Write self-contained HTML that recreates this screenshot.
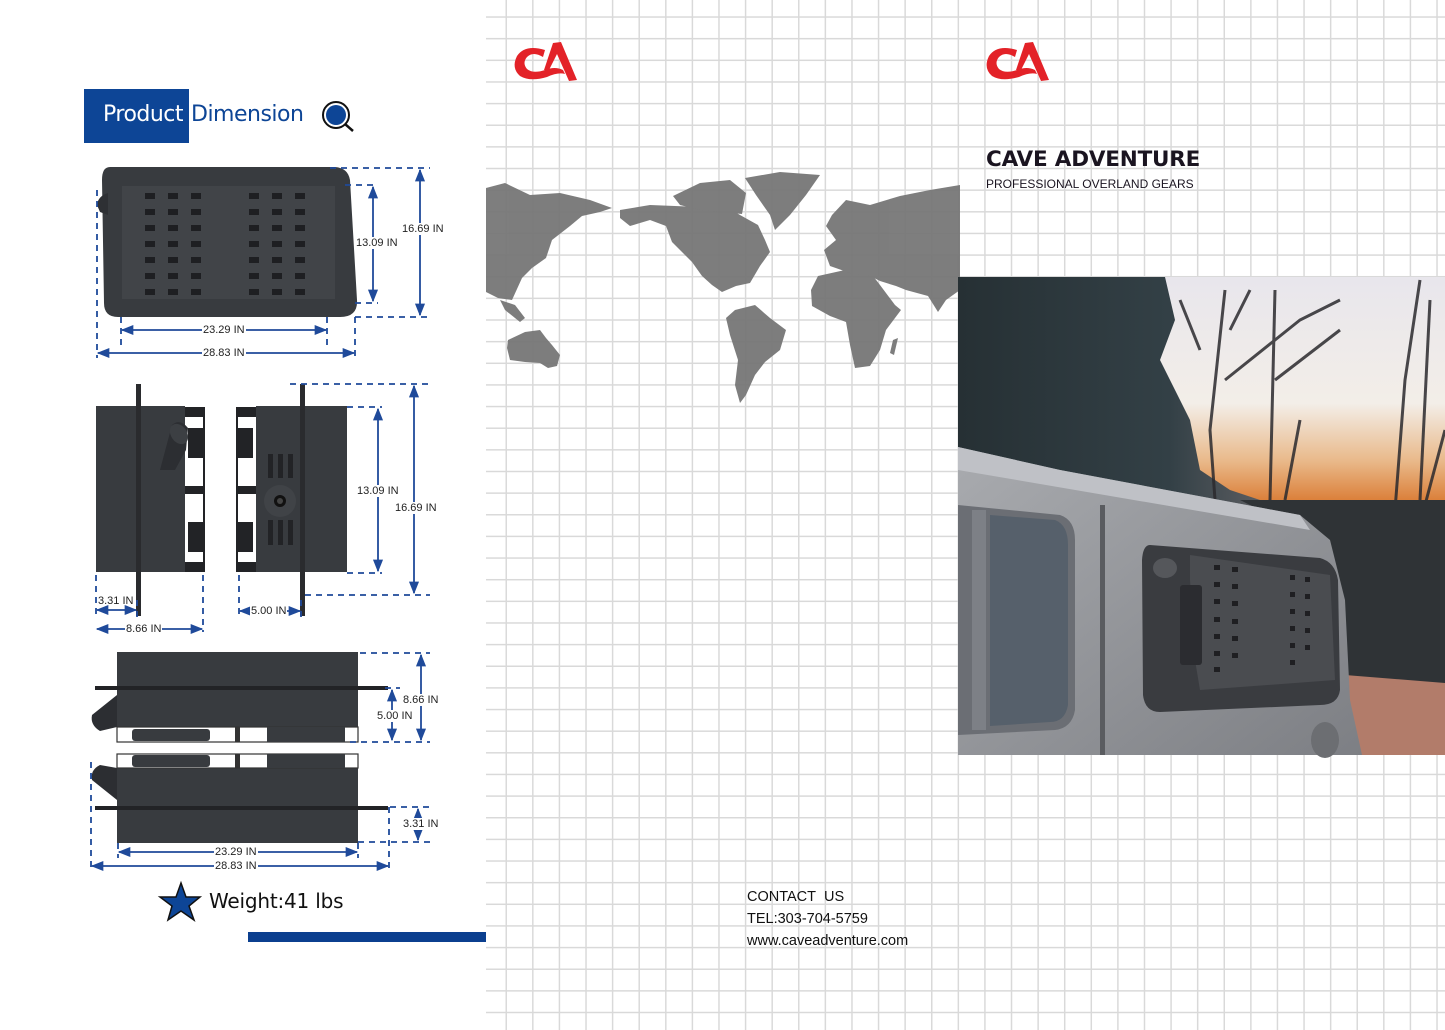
<!DOCTYPE html>
<html><head><meta charset="utf-8"><style>
*{margin:0;padding:0;box-sizing:border-box}
body{width:1445px;height:1030px;overflow:hidden;background:#fff;position:relative;font-family:"Liberation Sans",sans-serif}
#grid{position:absolute;left:486px;top:0;width:959px;height:1030px;
background-image:linear-gradient(to right,#d9d9d9 1.6px,transparent 1.6px),linear-gradient(to bottom,#d9d9d9 1.6px,transparent 1.6px);
background-size:26.6px 21.65px;background-position:19.5px 16.3px}
.t{position:absolute;white-space:nowrap}
svg{position:absolute;left:0;top:0}
</style></head><body>
<div id="grid"></div>

<svg width="1445" height="1030" viewBox="0 0 1445 1030">
<defs>
<marker id="ar" viewBox="0 0 10 10" refX="9" refY="5" markerWidth="7" markerHeight="7" orient="auto-start-reverse"><path d="M0,1 L10,5 L0,9 Z" fill="#1f4a9a"/></marker>
<linearGradient id="sky" x1="0" y1="0" x2="0" y2="1"><stop offset="0" stop-color="#e8e6ec"/><stop offset="0.55" stop-color="#f3eee8"/><stop offset="0.8" stop-color="#e9b98a"/><stop offset="1" stop-color="#d9762c"/></linearGradient>
<linearGradient id="trees" x1="0" y1="0" x2="1" y2="0"><stop offset="0" stop-color="#263034"/><stop offset="0.7" stop-color="#334046"/><stop offset="1" stop-color="#5a5c60"/></linearGradient>
<linearGradient id="car" x1="0" y1="0" x2="1" y2="1"><stop offset="0" stop-color="#a9abaf"/><stop offset="1" stop-color="#7d7f84"/></linearGradient>
</defs>

<!-- world map -->
<g fill="#777" opacity="0.95">
<path d="M486,188 L505,183 L530,195 L560,193 L590,200 L612,208 L600,212 L582,216 L570,226 L552,240 L546,258 L532,268 L522,278 L512,300 L498,298 L486,292Z"/>
<path d="M500,300 L515,305 L525,318 L520,322 L505,310Z"/>
<path d="M508,340 L525,332 L540,330 L546,338 L552,345 L560,355 L557,366 L548,368 L540,363 L525,362 L510,360 L507,348Z"/>
<path d="M620,210 L650,205 L700,207 L720,203 L740,215 L758,225 L765,240 L770,252 L760,266 L750,283 L736,286 L722,292 L712,285 L702,276 L692,262 L672,242 L666,226 L650,220 L630,226 L620,218Z"/>
<path d="M673,196 L700,183 L730,180 L746,193 L742,214 L722,212 L700,210 L680,205Z"/>
<path d="M745,178 L780,172 L820,175 L806,195 L790,215 L775,230 L770,215 L756,195Z"/>
<path d="M735,310 L755,305 L770,318 L786,330 L780,350 L765,362 L755,375 L746,395 L740,403 L735,385 L738,360 L730,335 L726,318Z"/>
<path d="M818,276 L845,270 L870,272 L880,285 L895,305 L901,310 L886,330 L880,350 L870,366 L855,368 L850,345 L846,322 L830,316 L812,306 L811,290Z"/>
<path d="M832,215 L846,200 L870,205 L900,196 L930,190 L960,185 L960,290 L946,300 L938,312 L928,296 L906,290 L896,286 L880,281 L870,276 L850,273 L830,266 L824,250 L836,240 L826,226Z"/>
<path d="M893,340 L898,338 L894,355 L890,353Z"/>
</g>

<!-- logos -->
<g fill="#e32228">
<path d="M545,50 Q525,44 517,56 Q511,68 520,76 Q530,82 547,77 Q558,72 565,74 L563,70 Q555,66 545,70 Q533,74 527,69 Q522,63 527,57 Q533,51 543,57Z"/>
<path d="M553,43 L561,42 L577,80 L569,81 L557,54 L549,70 L544,70Z"/>
<path d="M1017,50 Q997,44 989,56 Q983,68 992,76 Q1002,82 1019,77 Q1030,72 1037,74 L1035,70 Q1027,66 1017,70 Q1005,74 999,69 Q994,63 999,57 Q1005,51 1015,57Z"/>
<path d="M1025,43 L1033,42 L1049,80 L1041,81 L1029,54 L1021,70 L1016,70Z"/>
</g>

<!-- photo -->
<g>
<rect x="958" y="277" width="487" height="478" fill="#2c3437"/>
<rect x="1150" y="277" width="295" height="230" fill="url(#sky)"/>
<path d="M958,277 L1165,277 L1175,320 L1160,360 L1190,420 L1200,470 L1230,490 L1260,500 L1260,530 L958,530Z" fill="url(#trees)"/>
<g stroke="#2b2a2e" stroke-width="3" fill="none" opacity="0.85">
<path d="M1225,290 L1210,430 L1215,500"/><path d="M1225,380 L1300,320 L1340,300"/><path d="M1275,380 L1340,330"/>
<path d="M1275,290 L1270,500"/><path d="M1300,420 L1285,500"/><path d="M1420,280 L1405,380 L1395,510"/><path d="M1430,300 L1420,500"/><path d="M1445,430 L1425,505"/>
<path d="M1230,330 L1250,290"/><path d="M1180,300 L1200,350"/>
</g>
<path d="M1240,500 L1445,500 L1445,690 L1340,680 L1320,540Z" fill="#2f3336"/>
<path d="M1345,675 L1445,683 L1445,755 L1360,755Z" fill="#b27c6a"/>
<path d="M958,447 L1060,470 L1300,515 L1330,540 L1345,600 L1350,700 L1362,755 L958,755Z" fill="url(#car)"/>
<path d="M958,447 L1060,470 L1300,515 L1310,530 L958,470Z" fill="#bfc1c6"/>
<path d="M958,505 L1060,515 Q1075,520 1075,540 L1075,710 Q1072,728 1055,730 L958,735Z" fill="#6b6e74"/>
<path d="M990,515 L1055,520 Q1068,525 1068,545 L1068,705 Q1065,722 1050,722 L990,726Z" fill="#56606b"/>
<rect x="972" y="510" width="14" height="220" fill="#7d8086"/>
<rect x="1100" y="505" width="5" height="250" fill="#5a5c60"/>
<path d="M1150,545 L1320,558 Q1335,562 1338,580 L1340,690 Q1338,705 1320,705 L1160,712 Q1145,712 1143,695 L1142,560 Q1143,545 1150,545Z" fill="#3a3c40"/>
<path d="M1190,555 L1330,575 L1335,680 L1200,690 L1195,660 L1190,580Z" fill="#4a4c50"/>
<g fill="#1f1f22">
<rect x="1214" y="565" width="6" height="5"/><rect x="1232" y="567" width="6" height="5"/><rect x="1214" y="582" width="6" height="5"/><rect x="1232" y="584" width="6" height="5"/><rect x="1214" y="599" width="6" height="5"/><rect x="1232" y="601" width="6" height="5"/><rect x="1214" y="617" width="6" height="5"/><rect x="1232" y="619" width="6" height="5"/><rect x="1214" y="634" width="6" height="5"/><rect x="1232" y="636" width="6" height="5"/><rect x="1214" y="651" width="6" height="5"/><rect x="1232" y="653" width="6" height="5"/><rect x="1214" y="667" width="6" height="5"/>
<rect x="1290" y="575" width="5" height="5"/><rect x="1305" y="577" width="5" height="5"/><rect x="1290" y="592" width="5" height="5"/><rect x="1305" y="594" width="5" height="5"/><rect x="1290" y="609" width="5" height="5"/><rect x="1305" y="611" width="5" height="5"/><rect x="1290" y="626" width="5" height="5"/><rect x="1305" y="628" width="5" height="5"/><rect x="1290" y="643" width="5" height="5"/><rect x="1305" y="645" width="5" height="5"/><rect x="1290" y="660" width="5" height="5"/>
</g>
<rect x="1180" y="585" width="22" height="80" rx="3" fill="#2b2c30"/>
<ellipse cx="1165" cy="568" rx="12" ry="10" fill="#55575b"/>
<ellipse cx="1325" cy="740" rx="14" ry="18" fill="#6c6e72"/>
</g>

<!-- left: header -->
<rect x="84" y="89" width="105" height="54" fill="#0d4596"/>
<circle cx="336" cy="115" r="13" fill="none" stroke="#111" stroke-width="2"/>
<circle cx="336" cy="115" r="10" fill="#0d4596"/>
<line x1="345" y1="124" x2="353" y2="131" stroke="#111" stroke-width="2.5"/>

<!-- top view -->
<path d="M110,167 L335,167 Q348,168 350,180 L357,300 Q358,317 340,317 L118,317 Q104,317 104,303 L102,180 Q102,167 110,167Z" fill="#383b3f"/>
<path d="M97,205 Q98,196 108,193 L108,215 L100,212Z" fill="#2e3034"/>
<rect x="122" y="186" width="213" height="113" fill="#414448"/>
<g fill="#1e1f22">
<g id="hc"><rect x="145" y="193" width="10" height="6"/><rect x="145" y="209" width="10" height="6"/><rect x="145" y="225" width="10" height="6"/><rect x="145" y="241" width="10" height="6"/><rect x="145" y="257" width="10" height="6"/><rect x="145" y="273" width="10" height="6"/><rect x="145" y="289" width="10" height="6"/></g>
<use href="#hc" x="23"/><use href="#hc" x="46"/><use href="#hc" x="104"/><use href="#hc" x="127"/><use href="#hc" x="150"/>
</g>
<g fill="none" stroke="#1f4a9a" stroke-width="1.8">
<g stroke-dasharray="6,5">
<path d="M330,168 H430 M355,317 H430 M345,185 H378 M355,303 H378 M121,317 V345 M327,317 V345 M97,190 V358 M355,317 V358"/>
</g>
<line x1="420" y1="170" x2="420" y2="315" marker-start="url(#ar)" marker-end="url(#ar)"/>
<line x1="373" y1="187" x2="373" y2="301" marker-start="url(#ar)" marker-end="url(#ar)"/>
<line x1="122" y1="330" x2="326" y2="330" marker-start="url(#ar)" marker-end="url(#ar)"/>
<line x1="98" y1="353" x2="354" y2="353" marker-start="url(#ar)" marker-end="url(#ar)"/>
</g>

<!-- side views -->
<rect x="96" y="406" width="89" height="166" fill="#383b3f"/>
<path d="M172,425 Q180,418 188,428 L186,450 L175,470 L160,470 Z" fill="#2c2e32"/>
<ellipse cx="179" cy="434" rx="8" ry="11" transform="rotate(-35 179 434)" fill="#3c3f43"/>
<g fill="#222326"><rect x="185" y="407" width="19" height="10"/><rect x="185" y="486" width="19" height="8"/><rect x="185" y="562" width="19" height="10"/><rect x="188" y="428" width="15" height="30"/><rect x="188" y="522" width="15" height="30"/><rect x="203" y="407" width="2" height="165"/></g>
<rect x="136" y="384" width="5" height="232" fill="#2a2b2e"/>
<rect x="256" y="406" width="91" height="166" fill="#383b3f"/>
<g fill="#222326"><rect x="237" y="407" width="19" height="10"/><rect x="237" y="486" width="19" height="8"/><rect x="237" y="562" width="19" height="10"/><rect x="238" y="428" width="15" height="30"/><rect x="238" y="522" width="15" height="30"/><rect x="236" y="407" width="2" height="165"/>
<rect x="268" y="454" width="5" height="24"/><rect x="278" y="454" width="5" height="24"/><rect x="288" y="454" width="5" height="24"/><rect x="268" y="520" width="5" height="25"/><rect x="278" y="520" width="5" height="25"/><rect x="288" y="520" width="5" height="25"/></g>
<circle cx="280" cy="501" r="16" fill="#404347"/><circle cx="280" cy="501" r="6" fill="#111"/><circle cx="280" cy="501" r="3" fill="#444"/>
<rect x="300" y="384" width="5" height="232" fill="#2a2b2e"/>
<g fill="none" stroke="#1f4a9a" stroke-width="1.8">
<g stroke-dasharray="6,5"><path d="M96,575 V618 M137,600 V618 M203,575 V632 M239,575 V617 M301,600 V617 M347,407 H382 M347,573 H382 M290,384 H432 M305,595 H430"/></g>
<line x1="97" y1="610" x2="136" y2="610" marker-start="url(#ar)" marker-end="url(#ar)"/>
<line x1="97" y1="629" x2="202" y2="629" marker-start="url(#ar)" marker-end="url(#ar)"/>
<line x1="240" y1="611" x2="300" y2="611" marker-start="url(#ar)" marker-end="url(#ar)"/>
<line x1="378" y1="409" x2="378" y2="571" marker-start="url(#ar)" marker-end="url(#ar)"/>
<line x1="414" y1="386" x2="414" y2="593" marker-start="url(#ar)" marker-end="url(#ar)"/>
</g>

<!-- bottom views -->
<rect x="117" y="652" width="241" height="75" fill="#383b3f"/>
<path d="M92,715 L117,695 L117,727 L100,731 Q90,725 92,715Z" fill="#2c2e32"/>
<rect x="95" y="686" width="293" height="4" fill="#222326"/>
<rect x="117" y="727" width="241" height="15" fill="none" stroke="#333" stroke-width="1.2"/>
<rect x="132" y="729" width="78" height="12" rx="3" fill="#383b3f"/>
<rect x="235" y="727" width="5" height="15" fill="#333"/>
<rect x="267" y="727" width="78" height="15" fill="#383b3f"/>
<rect x="117" y="768" width="241" height="75" fill="#383b3f"/>
<path d="M92,780 Q90,770 100,765 L117,768 L117,800 Z" fill="#2c2e32"/>
<rect x="95" y="806" width="293" height="4" fill="#222326"/>
<rect x="117" y="754" width="241" height="14" fill="none" stroke="#333" stroke-width="1.2"/>
<rect x="132" y="755" width="78" height="12" rx="3" fill="#383b3f"/>
<rect x="235" y="754" width="5" height="14" fill="#333"/>
<rect x="267" y="754" width="78" height="14" fill="#383b3f"/>
<g fill="none" stroke="#1f4a9a" stroke-width="1.8">
<g stroke-dasharray="6,5"><path d="M360,653 H430 M350,742 H430 M385,688 H400 M390,807 H430 M358,842 H430 M118,843 V858 M358,843 V858 M91,762 V870 M389,807 V870"/></g>
<line x1="421" y1="655" x2="421" y2="740" marker-start="url(#ar)" marker-end="url(#ar)"/>
<line x1="392" y1="690" x2="392" y2="740" marker-start="url(#ar)" marker-end="url(#ar)"/>
<line x1="418" y1="809" x2="418" y2="840" marker-start="url(#ar)" marker-end="url(#ar)"/>
<line x1="119" y1="852" x2="357" y2="852" marker-start="url(#ar)" marker-end="url(#ar)"/>
<line x1="92" y1="866" x2="388" y2="866" marker-start="url(#ar)" marker-end="url(#ar)"/>
</g>

<!-- star + bar -->
<path d="M181,883 L186,897 L200,897 L189,906 L194,920 L181,911 L168,920 L172,906 L160,897 L176,897Z" fill="#0d4596" stroke="#111" stroke-width="1.5"/>
<rect x="248" y="932" width="238" height="10" fill="#0b3f8f"/>
</svg>

<style>.d{position:absolute;white-space:nowrap;font-size:11px;color:#222;background:#fff;line-height:12px;padding:0 1px}</style>
<div class="d" style="left:401px;top:223px">16.69 IN</div>
<div class="d" style="left:355px;top:237px">13.09 IN</div>
<div class="d" style="left:202px;top:324px">23.29 IN</div>
<div class="d" style="left:202px;top:347px">28.83 IN</div>
<div class="d" style="left:97px;top:595px;background:none">3.31 IN</div>
<div class="d" style="left:125px;top:623px">8.66 IN</div>
<div class="d" style="left:250px;top:605px">5.00 IN</div>
<div class="d" style="left:356px;top:485px">13.09 IN</div>
<div class="d" style="left:394px;top:502px">16.69 IN</div>
<div class="d" style="left:402px;top:694px">8.66 IN</div>
<div class="d" style="left:376px;top:710px">5.00 IN</div>
<div class="d" style="left:402px;top:818px">3.31 IN</div>
<div class="d" style="left:214px;top:846px">23.29 IN</div>
<div class="d" style="left:214px;top:860px">28.83 IN</div>

<div class="t" style="left:103px;top:102px;font-size:22px;color:#fff;font-family:'DejaVu Sans',sans-serif;letter-spacing:-0.5px">Product</div>
<div class="t" style="left:191px;top:102px;font-size:22px;color:#0d4596;font-family:'DejaVu Sans',sans-serif;letter-spacing:-0.5px">Dimension</div>
<div class="t" style="left:209px;top:889px;font-size:20px;color:#111;font-family:'DejaVu Sans',sans-serif;letter-spacing:-0.2px">Weight:41 lbs</div>

<div class="t" style="left:986px;top:147px;font-size:21.5px;font-weight:bold;color:#1a1420;font-family:'DejaVu Sans',sans-serif;letter-spacing:-0.2px">CAVE ADVENTURE</div>
<div class="t" style="left:986px;top:177px;font-size:12px;color:#1a1420">PROFESSIONAL OVERLAND GEARS</div>

<div class="t" style="left:747px;top:889px;font-size:14.5px;color:#111">CONTACT&nbsp; US</div>
<div class="t" style="left:747px;top:911px;font-size:14.5px;color:#111">TEL:303-704-5759</div>
<div class="t" style="left:747px;top:933px;font-size:14.5px;color:#111">www.caveadventure.com</div>
</body></html>
